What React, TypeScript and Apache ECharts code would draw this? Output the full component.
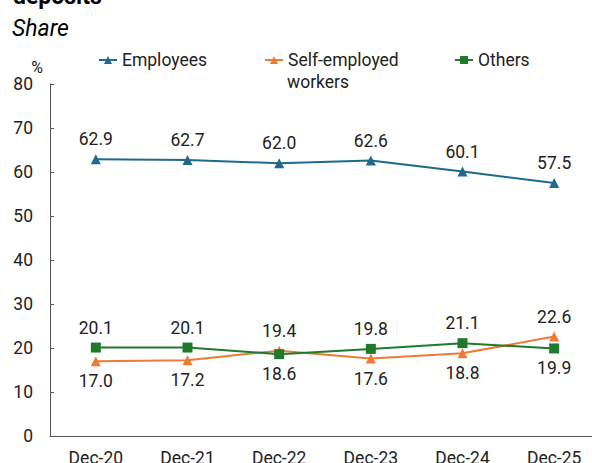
import React, { useEffect, useRef } from "react";
import * as echarts from "echarts";

const categories = ["Dec-20", "Dec-21", "Dec-22", "Dec-23", "Dec-24", "Dec-25"];
const employees = [62.9, 62.7, 62.0, 62.6, 60.1, 57.5];
const selfEmployed = [17.0, 17.2, 19.4, 17.6, 18.8, 22.6];
const others = [20.1, 20.1, 18.6, 19.8, 21.1, 19.9];
const selfEmployedLabelPos = ["bottom", "bottom", "top", "bottom", "bottom", "top"];
const othersLabelPos = ["top", "top", "bottom", "top", "top", "bottom"];
const yTicks = { min: 0, max: 80, interval: 10 };

const FONT = "Roboto";
const TEXT = "#222222";
const BLUE = "#1e6a8d";
const ORANGE = "#ee7b33";
const GREEN = "#207a2d";
const FS = 17.5;

function withPos(vals: number[], pos: string[]) {
  return vals.map((v, i) => ({ value: v, label: { position: pos[i] } }));
}

export default function App() {
  const ref = useRef<HTMLDivElement>(null);
  useEffect(() => {
    const chart = echarts.init(ref.current!, null, { renderer: "svg" });
    const labelBase = {
      show: true,
      fontFamily: FONT,
      fontSize: FS,
      color: TEXT,
      distance: 6,
      formatter: (p: any) => Number(p.value).toFixed(1),
    };
    const legendText = { fontFamily: FONT, fontSize: FS, color: TEXT };
    chart.setOption({
      animation: false,
      textStyle: { fontFamily: FONT },
      graphic: [
        {
          type: "text",
          left: 13,
          top: -15,
          style: { text: "deposits", font: `bold 23px ${FONT}`, fill: "#000" },
        },
        {
          type: "text",
          left: 12,
          top: 17,
          style: { text: "Share", font: `italic 23px ${FONT}`, fill: "#000" },
        },
        {
          type: "text",
          left: 287,
          top: 73,
          style: { text: "workers", font: `${FS}px ${FONT}`, fill: TEXT },
        },
      ],
      legend: [
        {
          data: ["Employees"],
          left: 93,
          top: 46,
          itemWidth: 18,
          itemHeight: 10,
          textStyle: legendText,
        },
        {
          data: ["Self-employed workers"],
          formatter: () => "Self-employed",
          left: 259,
          top: 46,
          itemWidth: 18,
          itemHeight: 10,
          textStyle: legendText,
        },
        {
          data: ["Others"],
          left: 449,
          top: 46,
          itemWidth: 18,
          itemHeight: 10,
          textStyle: legendText,
        },
      ],
      grid: { left: 50, top: 84, width: 550, height: 352, outerBoundsMode: "none", containLabel: false },
      xAxis: {
        type: "category",
        data: categories,
        boundaryGap: true,
        axisLine: { lineStyle: { color: "#555", width: 1 } },
        axisTick: { inside: true, length: 5, lineStyle: { color: "#555" } },
        axisLabel: { fontFamily: FONT, fontSize: FS, color: TEXT, margin: 13 },
      },
      yAxis: {
        type: "value",
        min: yTicks.min,
        max: yTicks.max,
        interval: yTicks.interval,
        name: "%",
        nameLocation: "end",
        nameGap: 8,
        nameTextStyle: { fontFamily: FONT, fontSize: 16, color: TEXT, align: "right", padding: [0, 7, 0, 0] },
        axisLine: { show: true, lineStyle: { color: "#555", width: 1 } },
        axisTick: { show: true, inside: true, length: 4, lineStyle: { color: "#555" } },
        axisLabel: { fontFamily: FONT, fontSize: FS, color: TEXT, margin: 17 },
        splitLine: { show: false },
      },
      series: [
        {
          name: "Employees",
          type: "line",
          data: employees,
          symbol: "triangle",
          symbolSize: 10,
          color: BLUE,
          lineStyle: { width: 2, color: BLUE },
          itemStyle: { color: BLUE },
          label: { ...labelBase, position: "top" },
        },
        {
          name: "Self-employed workers",
          type: "line",
          data: withPos(selfEmployed, selfEmployedLabelPos),
          symbol: "triangle",
          symbolSize: 10,
          color: ORANGE,
          lineStyle: { width: 2, color: ORANGE },
          itemStyle: { color: ORANGE },
          label: { ...labelBase },
        },
        {
          name: "Others",
          type: "line",
          data: withPos(others, othersLabelPos),
          symbol: "rect",
          symbolSize: 10,
          color: GREEN,
          lineStyle: { width: 2, color: GREEN },
          itemStyle: { color: GREEN },
          label: { ...labelBase },
        },
      ],
    });
    return () => chart.dispose();
  }, []);
  return <div ref={ref} style={{ width: 592, height: 463, position: "absolute", left: 0, top: 0 }} />;
}
